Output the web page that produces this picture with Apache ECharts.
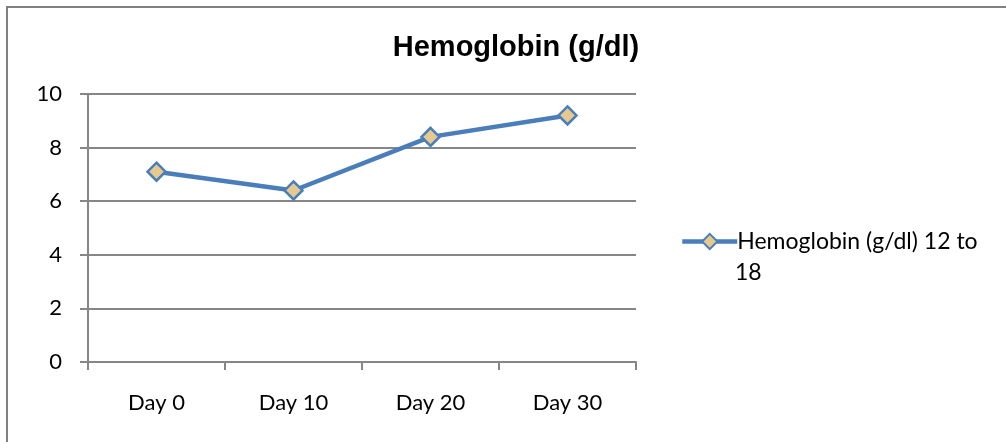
<!DOCTYPE html>
<html>
<head>
<meta charset="utf-8">
<script src="https://cdn.jsdelivr.net/npm/echarts@6/dist/echarts.min.js"></script>
<style>
  html, body { margin: 0; padding: 0; background: #fff; }
  #main { width: 1006px; height: 442px; }
</style>
</head>
<body>
<div id="main"></div>
<script>
// data
var days = ['Day 0', 'Day 10', 'Day 20', 'Day 30'];
var hemoglobin = [7.1, 6.4, 8.4, 9.2];
var seriesName = 'Hemoglobin (g/dl) 12 to 18';

var chart = echarts.init(document.getElementById('main'));
var grey = '#868686';
var font = 'Lato, Calibri, sans-serif';

chart.setOption({
    backgroundColor: '#fff',
    animation: false,
    title: {
        text: 'Hemoglobin (g/dl)',
        left: 511,
        top: 28,
        textAlign: 'center',
        textStyle: { fontFamily: 'Liberation Sans, Arial', fontWeight: 'bold', fontSize: 29, color: '#000' }
    },
    legend: {
        left: 675,
        top: 225,
        itemWidth: 55,
        itemHeight: 19,
        itemGap: 4,
        lineStyle: { width: 4.5 },
        formatter: function (name) {
            return name.replace(/ 18$/, '');
        },
        textStyle: { fontFamily: font, fontSize: 23, color: '#000', padding: [0, 0, 0, -5] }
    },
    grid: { left: 88, right: 370, top: 94, bottom: 80 },
    xAxis: {
        type: 'category',
        data: days,
        boundaryGap: true,
        axisLine: { lineStyle: { color: grey, width: 2 } },
        axisTick: { show: true, length: 8, interval: 0, lineStyle: { color: grey, width: 2 } },
        axisLabel: { margin: 30, fontFamily: font, fontSize: 22, color: '#000' }
    },
    yAxis: {
        type: 'value',
        min: 0,
        max: 10,
        interval: 2,
        axisLine: { show: true, lineStyle: { color: grey, width: 2 } },
        axisTick: { show: true, length: 8, lineStyle: { color: grey, width: 2 } },
        splitLine: { lineStyle: { color: grey, width: 2 } },
        axisLabel: { margin: 26, fontFamily: font, fontSize: 22, color: '#000' }
    },
    series: [{
        name: seriesName,
        type: 'line',
        data: hemoglobin,
        symbol: 'diamond',
        symbolSize: 18,
        lineStyle: { color: '#4a7ebb', width: 4.5 },
        itemStyle: { color: '#e6c98f', borderColor: '#4a7ebb', borderWidth: 2.5 }
    }],
    graphic: [
        {
            type: 'rect',
            shape: { x: 7, y: 7, width: 1100, height: 500 },
            style: { fill: 'none', stroke: '#808080', lineWidth: 2 },
            silent: true
        },
        {
            type: 'text',
            left: 735,
            top: 261,
            style: { text: '18', font: '23px ' + font, fill: '#000' }
        }
    ]
});
</script>
</body>
</html>
